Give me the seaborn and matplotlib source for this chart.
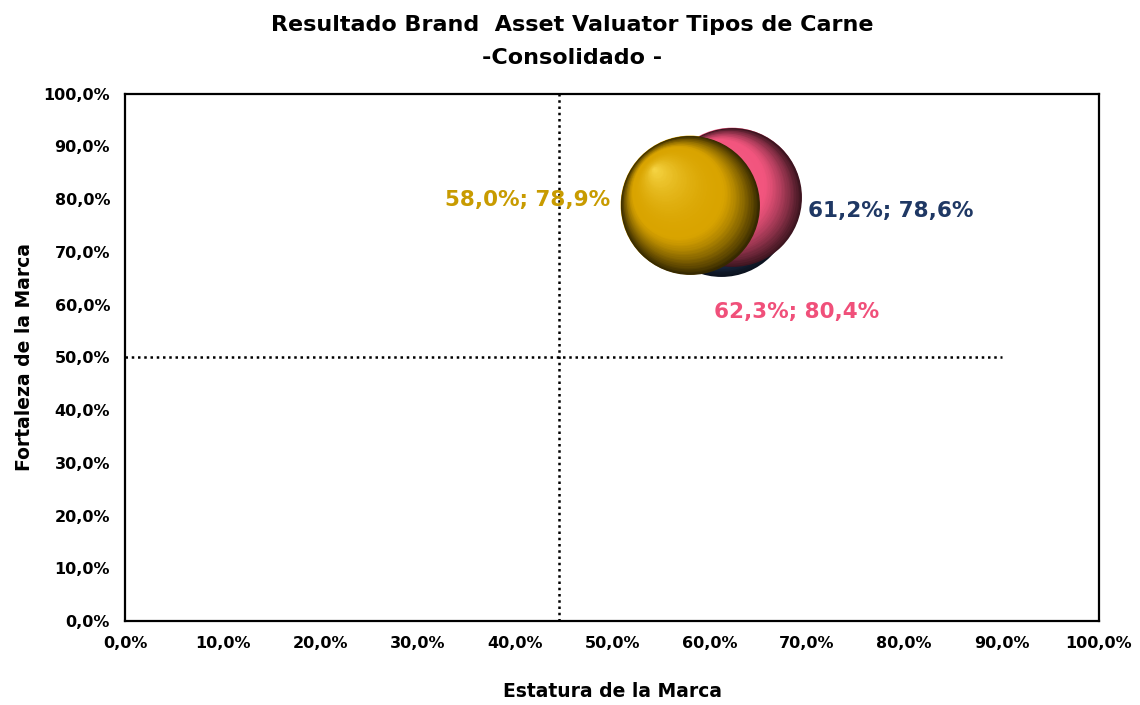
import matplotlib
matplotlib.use("Agg")
import matplotlib.pyplot as plt
import matplotlib.transforms as mtransforms
import numpy as np
import pandas as pd
import seaborn as sns

# datos del grafico
marcas = ["Azul", "Rosa", "Dorado"]
estatura = [61.2, 62.3, 58.0]
fortaleza = [78.6, 80.4, 78.9]
colores = ["#2E4C7E", "#F2557E", "#D9A400"]
brillos = ["#8FA8D8", "#FF9DB5", "#FFE45A"]
colores_texto = ["#1F3864", "#F0507A", "#C89B00"]
ticks = [0, 10, 20, 30, 40, 50, 60, 70, 80, 90, 100]
ref_x = 44.5
ref_y = 50.0
ref_y_fin = 90.0

df = pd.DataFrame({"marca": marcas, "x": estatura, "y": fortaleza})


def fmt(v):
    return f"{v:.1f}%".replace(".", ",")


def mezcla(c, otro, t):
    c = np.array(matplotlib.colors.to_rgb(c))
    o = np.array(matplotlib.colors.to_rgb(otro))
    return tuple(c * (1 - t) + o * t)


def esfera(ax, fig, x, y, s, color, brillo):
    # capas concentricas para simular una esfera con brillo
    r = np.sqrt(s) / 2
    n = 60
    for i in range(n):
        f = 1 - i / n
        t = i / (n - 1)
        if t < 0.35:
            c = mezcla(color, "black", 0.75 * (1 - t / 0.35) ** 1.3)
        else:
            c = mezcla(color, brillo, 0.75 * ((t - 0.35) / 0.65) ** 2)
        d = (1 - f) * r * 0.75
        tr = mtransforms.offset_copy(ax.transData, fig=fig, x=-d * 0.7, y=d * 0.7, units="points")
        ax.scatter([x], [y], s=s * f ** 2, color=c, transform=tr, linewidths=0, zorder=3)


sns.set_style("white")
plt.rcParams["font.family"] = ["DejaVu Sans"]
plt.rcParams["text.color"] = "black"
plt.rcParams["axes.labelcolor"] = "black"
plt.rcParams["xtick.color"] = "black"
plt.rcParams["ytick.color"] = "black"

fig = plt.figure(figsize=(11.4, 7.05), dpi=100)
ax = fig.add_axes([0.110, 0.119, 0.854, 0.748])

size = 10000
sns.scatterplot(data=df, x="x", y="y", hue="marca", palette=colores, s=size,
                legend=False, linewidth=0, ax=ax, zorder=2)
for xi, yi, c, b in zip(estatura, fortaleza, colores, brillos):
    esfera(ax, fig, xi, yi, size, c, b)

# lineas de referencia
ax.axvline(ref_x, color="black", linestyle=(0, (1, 1.5)), linewidth=1.8, zorder=1)
ax.plot([0, ref_y_fin], [ref_y, ref_y], color="black", linestyle=(0, (1, 1.5)),
        linewidth=1.8, zorder=1)

# etiquetas de datos
pos = [(808, 211, "left"), (797, 312, "center"), (610, 200, "right")]
for (px, py, ha), xi, yi, c in zip(pos, estatura, fortaleza, colores_texto):
    ax.text(px / 1140, 1 - py / 705, f"{fmt(xi)}; {fmt(yi)}", transform=fig.transFigure,
            ha=ha, va="center", fontsize=15.5, fontweight="bold", color=c, zorder=5)

ax.set_xlim(0, 100)
ax.set_ylim(0, 100)
ax.set_xticks(ticks)
ax.set_yticks(ticks)
ax.set_xticklabels([fmt(t) for t in ticks], fontsize=11.5, fontweight="bold")
ax.set_yticklabels([fmt(t) for t in ticks], fontsize=11.5, fontweight="bold")
ax.tick_params(direction="out", length=5, width=1, color="black", pad=6)
for sp in ax.spines.values():
    sp.set_visible(True)
    sp.set_color("black")
    sp.set_linewidth(1.6)

ax.set_xlabel("Estatura de la Marca", fontsize=13.5, fontweight="bold")
ax.set_ylabel("Fortaleza de la Marca", fontsize=13.5, fontweight="bold")
ax.xaxis.set_label_coords(0.5, -0.115)
ax.yaxis.set_label_coords(-0.094, 0.5)
fig.text(0.502, 1 - 25 / 705, "Resultado Brand  Asset Valuator Tipos de Carne",
         ha="center", va="center", fontsize=16, fontweight="bold")
fig.text(0.502, 1 - 58 / 705, "-Consolidado -",
         ha="center", va="center", fontsize=16, fontweight="bold")

fig.savefig("out.png", dpi=100)
